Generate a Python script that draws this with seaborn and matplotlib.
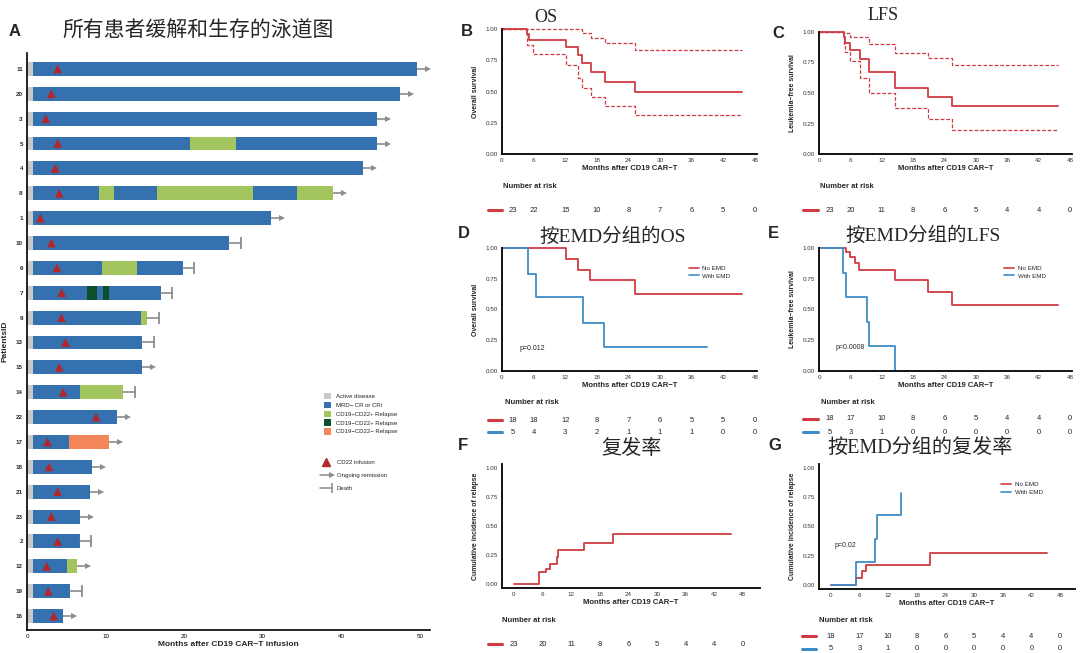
import numpy as np
import pandas as pd
import matplotlib
matplotlib.use("Agg")
import matplotlib.pyplot as plt
import matplotlib.transforms as mtrans
from matplotlib.lines import Line2D
from matplotlib.patches import Patch
from matplotlib.legend_handler import HandlerBase
import seaborn as sns

sns.set_theme(style="white")
plt.rcParams['font.family'] = ['Liberation Sans', 'Noto Sans CJK SC', 'DejaVu Sans']
SERIF = ['Liberation Serif', 'Noto Sans CJK SC', 'DejaVu Sans']

# ---------------- data: swimmer plot (panel A) ----------------
patient_ids = ["11", "20", "3", "5", "4", "8", "1", "10", "6", "7", "9", "13",
               "15", "14", "22", "17", "18", "21", "23", "2", "12", "19", "16"]
prior_end = 0.8
seg_states = [["CR"], ["CR"], ["CR"], ["CR", "R1", "CR"], ["CR"],
              ["CR", "R1", "CR", "R1", "CR", "R1"], ["CR"], ["CR"],
              ["CR", "R1", "CR"], ["CR", "R2", "CR", "R2", "CR"], ["CR", "R1"],
              ["CR"], ["CR"], ["CR", "R1"], ["CR"], ["CR", "R3"], ["CR"], ["CR"],
              ["CR"], ["CR"], ["CR", "R1"], ["CR"], ["CR"]]
seg_ends = [[49.7], [47.5], [44.5], [20.8, 26.6, 44.5], [42.8],
            [9.2, 11.1, 16.6, 28.8, 34.4, 38.9], [31.1], [25.7],
            [9.5, 14.0, 19.8], [7.7, 8.9, 9.7, 10.4, 17.0], [14.5, 15.3],
            [14.7], [14.7], [6.7, 12.2], [11.5], [5.4, 10.4], [8.3], [8.0],
            [6.8], [6.7], [5.1, 6.4], [5.5], [4.6]]
cd22_time = [3.9, 3.1, 2.4, 3.9, 3.6, 4.1, 1.7, 3.1, 3.8, 4.4, 4.4, 4.9,
             4.1, 4.6, 8.8, 2.6, 2.8, 3.9, 3.1, 3.9, 2.5, 2.7, 3.4]
outcome = ["ongoing", "ongoing", "ongoing", "ongoing", "ongoing", "ongoing", "ongoing",
           "death", "death", "death", "death", "death", "ongoing", "death", "ongoing",
           "ongoing", "ongoing", "ongoing", "ongoing", "death", "ongoing", "death", "ongoing"]
state_labels = {"PRE": "Active disease", "CR": "MRD\u2212 CR or CRi",
                "R1": "CD19+CD22+ Relapse", "R2": "CD19\u2212CD22+ Relapse",
                "R3": "CD19\u2212CD22\u2212 Relapse"}
state_colors = {"PRE": "#C9C9C9", "CR": "#3471AE", "R1": "#A3C55E",
                "R2": "#0D4F2B", "R3": "#F4875A"}

# ---------------- data: KM curves ----------------
months_ticks = [0, 6, 12, 18, 24, 30, 36, 42, 48]
os_t = [0, 4.8, 5.1, 12.2, 14.5, 15.1, 16.8, 19.5, 25.3, 45.5]
os_s = [1.0, 0.957, 0.913, 0.855, 0.79, 0.726, 0.653, 0.58, 0.50, 0.50]
os_up_t = [0, 15.1, 16.8, 19.5, 25.3, 45.5]
os_up_s = [1.0, 0.968, 0.925, 0.887, 0.833, 0.833]
os_lo_t = [0, 4.8, 5.8, 12.2, 14.5, 15.1, 16.8, 19.5, 25.3, 45.5]
os_lo_s = [1.0, 0.876, 0.80, 0.71, 0.61, 0.53, 0.455, 0.385, 0.31, 0.31]
os_risk = ["23", "22", "15", "10", "8", "7", "6", "5", "0"]

lfs_t = [0, 4.7, 5.0, 6.0, 7.8, 9.5, 14.6, 20.8, 25.4, 45.8]
lfs_s = [1.0, 0.955, 0.91, 0.85, 0.78, 0.67, 0.545, 0.47, 0.39, 0.39]
lfs_up_t = [0, 4.7, 6.0, 9.5, 14.6, 20.8, 25.4, 45.8]
lfs_up_s = [1.0, 0.99, 0.96, 0.905, 0.83, 0.79, 0.73, 0.73]
lfs_lo_t = [0, 4.7, 5.0, 6.0, 7.8, 9.5, 14.6, 20.8, 25.4, 45.8]
lfs_lo_s = [1.0, 0.89, 0.84, 0.76, 0.62, 0.50, 0.375, 0.285, 0.20, 0.20]
lfs_risk = ["23", "20", "11", "8", "6", "5", "4", "4", "0"]

os_noemd_t = [0, 12.1, 14.5, 16.7, 25.3, 45.5]
os_noemd_s = [1.0, 0.91, 0.823, 0.736, 0.63, 0.63]
os_emd_t = [0, 4.9, 6.4, 15.3, 19.4, 38.9]
os_emd_s = [1.0, 0.79, 0.60, 0.394, 0.198, 0.198]
os_noemd_risk = ["18", "18", "12", "8", "7", "6", "5", "5", "0"]
os_emd_risk = ["5", "4", "3", "2", "1", "1", "1", "0", "0"]

lfs_noemd_t = [0, 5.2, 6.0, 6.9, 7.7, 14.6, 20.8, 25.4, 45.8]
lfs_noemd_s = [1.0, 0.97, 0.93, 0.88, 0.825, 0.74, 0.64, 0.535, 0.535]
lfs_emd_t = [0, 4.6, 5.2, 9.2, 9.6, 14.6]
lfs_emd_s = [1.0, 0.80, 0.60, 0.40, 0.20, 0.0]
lfs_noemd_risk = ["18", "17", "10", "8", "6", "5", "4", "4", "0"]
lfs_emd_risk = ["5", "3", "1", "0", "0", "0", "0", "0", "0"]

rel_t = [0, 5.3, 6.8, 7.5, 9.0, 9.3, 14.7, 20.7, 45.6]
rel_s = [0.0, 0.10, 0.13, 0.175, 0.23, 0.29, 0.35, 0.43, 0.43]
rel_risk = ["23", "20", "11", "8", "6", "5", "4", "4", "0"]

rel_noemd_t = [0, 5.3, 6.6, 7.4, 20.7, 45.2]
rel_noemd_s = [0.0, 0.055, 0.115, 0.17, 0.275, 0.275]
rel_emd_t = [0, 5.2, 9.3, 9.6, 14.7]
rel_emd_s = [0.0, 0.20, 0.395, 0.60, 0.79]

RED = "#CF3B40"
BLUE = "#3E8DC7"
GRAY = "#8C8C8C"

W, H = 1080, 653
fig = plt.figure(figsize=(W / 100, H / 100), dpi=100)


def px_axes(l, t, r, b):
    return fig.add_axes([l / W, 1 - b / H, (r - l) / W, (b - t) / H])


def ftext(x, y, s, **kw):
    fig.text(x / W, 1 - y / H, s, ha=kw.pop('ha', 'center'), va=kw.pop('va', 'center'), **kw)


# ---------------- Panel A ----------------
axA = px_axes(27, 53, 430, 630)
rows = np.arange(len(patient_ids))
bh = 0.56
for i in rows:
    axA.barh(i, prior_end, left=0, height=bh, color=state_colors["PRE"], lw=0)
    start = prior_end
    for st, en in zip(seg_states[i], seg_ends[i]):
        axA.barh(i, en - start, left=start, height=bh, color=state_colors[st], lw=0)
        start = en
    end = seg_ends[i][-1]
    if outcome[i] == "ongoing":
        axA.plot([end, end + 1.3], [i, i], color=GRAY, lw=1.2, solid_capstyle='butt')
        axA.plot([end + 1.4], [i], marker='>', ms=5, color=GRAY, mew=0)
    else:
        axA.plot([end, end + 1.5], [i, i], color=GRAY, lw=1.2)
        axA.plot([end + 1.5], [i], marker='|', ms=8, mew=1.3, color=GRAY)

sns.scatterplot(x=cd22_time, y=rows, marker='^', s=40, color="#B3262B", edgecolor="none",
                ax=axA, legend=False, zorder=5)
axA.set_xlim(0, 51.3)
axA.set_ylim(len(patient_ids) - 0.44, -0.64)
axA.set_yticks(rows)
axA.set_yticklabels(patient_ids, fontsize=4.5, fontweight='bold')
axA.set_xticks([0, 10, 20, 30, 40, 50])
axA.tick_params(axis='x', labelsize=4.5, length=2, width=0.8, pad=1, colors='black')
axA.tick_params(axis='y', length=2, width=0.8, pad=1)
for sp in ['top', 'right']:
    axA.spines[sp].set_visible(False)
for sp in ['left', 'bottom']:
    axA.spines[sp].set_color('black')
    axA.spines[sp].set_linewidth(1.2)
axA.set_xlabel("Months after CD19 CAR\u2212T infusion", fontsize=6, fontweight='bold', labelpad=1)
axA.set_ylabel("PatientsID", fontsize=6, fontweight='bold', labelpad=1)
axA.yaxis.set_label_coords(-18 / 403, 0.5)


class EndMarkerHandler(HandlerBase):
    def __init__(self, marker, ms, mew):
        super().__init__()
        self.marker, self.ms, self.mew = marker, ms, mew

    def create_artists(self, legend, orig_handle, xdescent, ydescent, width, height, fontsize, trans):
        y = height / 2 - ydescent
        c = orig_handle.get_color()
        ln = Line2D([-xdescent, width - xdescent], [y, y], color=c, lw=1.1, transform=trans)
        mk = Line2D([width - xdescent], [y], marker=self.marker, ms=self.ms, mew=self.mew,
                    color=c, ls='none', transform=trans)
        return [ln, mk]


patch_handles = [Patch(facecolor=state_colors[k], edgecolor='none', label=state_labels[k])
                 for k in ["PRE", "CR", "R1", "R2", "R3"]]
leg1 = axA.legend(handles=patch_handles, loc='upper left', bbox_to_anchor=(321 / W, 1 - 390 / H),
                  bbox_transform=fig.transFigure, fontsize=4.3, frameon=False, handlelength=1.2,
                  handleheight=1.3, labelspacing=0.38, handletextpad=0.8, borderpad=0)
axA.add_artist(leg1)
h_tri = Line2D([], [], marker='^', color="#B3262B", ls='none', ms=6, label="CD22 infusion")
h_arrow = Line2D([], [], color=GRAY, label="Ongoing remission")
h_death = Line2D([], [], color=GRAY, label="Death")
axA.legend(handles=[h_tri, h_arrow, h_death], loc='upper left',
           bbox_to_anchor=(317 / W, 1 - 457 / H), bbox_transform=fig.transFigure,
           fontsize=4.3, frameon=False, handlelength=2.0, labelspacing=1.3,
           handletextpad=0.8, borderpad=0,
           handler_map={h_arrow: EndMarkerHandler('>', 5, 0), h_death: EndMarkerHandler('|', 7, 1.2)})


# ---------------- KM helpers ----------------
def style_km(ax, ylabel, xlim, ylim, wpx):
    ax.set_xlim(*xlim)
    ax.set_ylim(*ylim)
    ax.set_xticks(months_ticks)
    ax.set_yticks([0, 0.25, 0.5, 0.75, 1.0])
    ax.set_yticklabels(["0.00", "0.25", "0.50", "0.75", "1.00"])
    ax.tick_params(labelsize=4.5, length=2, width=0.8, pad=1, colors='#333333')
    for sp in ['top', 'right']:
        ax.spines[sp].set_visible(False)
    for sp in ['left', 'bottom']:
        ax.spines[sp].set_color('black')
        ax.spines[sp].set_linewidth(1.3)
    ax.set_xlabel("Months after CD19 CAR\u2212T", fontsize=5.5, fontweight='bold', labelpad=1)
    ax.set_ylabel(ylabel, fontsize=5, fontweight='bold')
    ax.yaxis.set_label_coords(-23 / wpx, 0.5)


def step(ax, t, s, color, lw=1.3, ls='-'):
    sns.lineplot(x=t, y=s, drawstyle='steps-post', estimator=None, sort=False, color=color,
                 lw=lw, linestyle=ls, ax=ax, clip_on=False)


def risk(ax, label_x, label_y, rows_spec, first_shift):
    ftext(label_x, label_y, "Number at risk", ha='left', fontsize=5.5, fontweight='bold')
    tr = mtrans.blended_transform_factory(ax.transData, fig.transFigure)
    for color, ypx, mx0, mx1, vals in rows_spec:
        fig.add_artist(Line2D([mx0 / W, mx1 / W], [1 - ypx / H] * 2, transform=fig.transFigure,
                              color=color, lw=2.2))
        for k, (xv, v) in enumerate(zip(months_ticks, vals)):
            xx = xv + (first_shift if k == 0 else 0)
            ax.text(xx, 1 - ypx / H, v, transform=tr, ha='center', va='center', fontsize=5.5)


def group_legend(ax, anchor):
    hs = [Line2D([], [], color=RED, lw=1.2, label="No EMD"),
          Line2D([], [], color=BLUE, lw=1.2, label="With EMD")]
    ax.legend(handles=hs, loc='upper left', bbox_to_anchor=anchor, fontsize=4.5, frameon=False,
              handlelength=1.6, labelspacing=0.3, handletextpad=0.6, borderpad=0)


# ---------------- Panel B ----------------
axB = px_axes(502, 29, 757, 154)
step(axB, os_t, os_s, RED)
step(axB, os_up_t, os_up_s, RED, lw=0.9, ls=(0, (3, 1.5)))
step(axB, os_lo_t, os_lo_s, RED, lw=0.9, ls=(0, (3, 1.5)))
style_km(axB, "Overall survival", (0, 48.4), (0, 1.0), 255)
risk(axB, 503, 187, [(RED, 210, 488, 502, os_risk)], 2.0)

# ---------------- Panel C ----------------
axC = px_axes(819, 32, 1072, 154)
step(axC, lfs_t, lfs_s, RED)
step(axC, lfs_up_t, lfs_up_s, RED, lw=0.9, ls=(0, (3, 1.5)))
step(axC, lfs_lo_t, lfs_lo_s, RED, lw=0.9, ls=(0, (3, 1.5)))
style_km(axC, "Leukemia\u2212free survival", (0, 48.4), (0, 1.0), 253)
risk(axC, 820, 187, [(RED, 210, 803, 818, lfs_risk)], 2.0)

# ---------------- Panel D ----------------
axD = px_axes(502, 248, 757, 371)
step(axD, os_noemd_t, os_noemd_s, RED)
step(axD, os_emd_t, os_emd_s, BLUE)
style_km(axD, "Overall survival", (0, 48.4), (0, 1.0), 255)
axD.text(3.4, 0.185, "p=0.012", fontsize=5, va='center')
group_legend(axD, (0.72, 0.88))
risk(axD, 505, 403, [(RED, 420, 488, 502, os_noemd_risk), (BLUE, 432, 488, 502, os_emd_risk)], 2.0)

# ---------------- Panel E ----------------
axE = px_axes(819, 248, 1072, 371)
step(axE, lfs_noemd_t, lfs_noemd_s, RED)
step(axE, lfs_emd_t, lfs_emd_s, BLUE)
style_km(axE, "Leukemia\u2212free survival", (0, 48.4), (0, 1.0), 253)
axE.text(3.1, 0.19, "p=0.0008", fontsize=5, va='center')
group_legend(axE, (0.72, 0.88))
risk(axE, 821, 403, [(RED, 419, 803, 818, lfs_noemd_risk), (BLUE, 432, 803, 818, lfs_emd_risk)], 2.0)

# ---------------- Panel F ----------------
axF = px_axes(502, 464, 760, 588)
step(axF, rel_t, rel_s, RED)
style_km(axF, "Cumulative incidence of relapse", (-2.5, 51.6), (-0.035, 1.035), 258)
risk(axF, 502, 620, [(RED, 644, 488, 502, rel_risk)], 0.0)

# ---------------- Panel G ----------------
axG = px_axes(819, 464, 1075, 589)
step(axG, rel_noemd_t, rel_noemd_s, RED)
step(axG, rel_emd_t, rel_emd_s, BLUE)
style_km(axG, "Cumulative incidence of relapse", (-2.45, 51.1), (-0.035, 1.035), 256)
axG.text(0.9, 0.34, "p=0.02", fontsize=5, va='center')
group_legend(axG, (0.70, 0.88))
risk(axG, 819, 620, [(RED, 636, 802, 816, lfs_noemd_risk), (BLUE, 649, 802, 816, lfs_emd_risk)], 0.0)

# ---------------- titles and panel letters ----------------
ftext(198, 32, "所有患者缓解和生存的泳道图", fontsize=15, family=SERIF)
ftext(546, 17, "OS", fontsize=13, family=SERIF)
ftext(883, 16, "LFS", fontsize=13, family=SERIF)
ftext(613, 237, "按EMD分组的OS", fontsize=14, family=SERIF)
ftext(923, 236, "按EMD分组的LFS", fontsize=14, family=SERIF)
ftext(632, 449, "复发率", fontsize=14.5, family=SERIF)
ftext(920, 448, "按EMD分组的复发率", fontsize=14.5, family=SERIF)
for letter, x, y in [("A", 15, 32), ("B", 467, 32), ("C", 778, 33), ("D", 464, 234),
                     ("E", 773, 234), ("F", 463, 446), ("G", 775, 446)]:
    ftext(x, y, letter, fontsize=12, fontweight='bold', family=['Liberation Sans'])

fig.savefig("out.png", dpi=100)
